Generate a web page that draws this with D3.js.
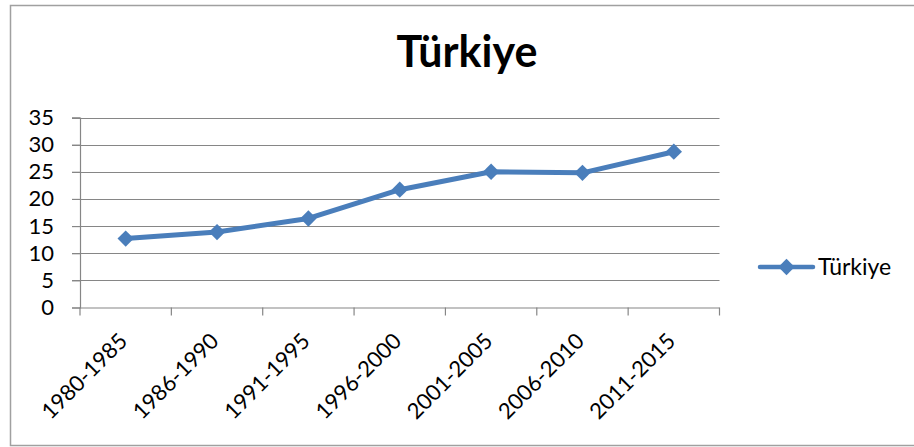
<!DOCTYPE html>
<html>
<head>
<meta charset="utf-8">
<script src="https://cdn.jsdelivr.net/npm/d3@7"></script>
<style>
  body { margin: 0; background: #fff; }
  text { font-family: Lato, "Open Sans", sans-serif; fill: #000; }
</style>
</head>
<body>
<svg id="chart" width="914" height="447"></svg>
<script>
"use strict";

const periods = ["1980-1985", "1986-1990", "1991-1995", "1996-2000", "2001-2005", "2006-2010", "2011-2015"];
const values = [12.7, 13.9, 16.4, 21.7, 25.0, 24.8, 28.7];
const yTicks = [0, 5, 10, 15, 20, 25, 30, 35];
const seriesName = "Türkiye";
const title = "Türkiye";

(() => {
	const svg = d3.select("#chart");
	const blue = "#4a7ebb";
	const grey = "#868686";

	// outer chart frame (right edge is cropped off in the original)
	svg.append("rect")
		.attr("x", 10.5).attr("y", 5.5)
		.attr("width", 960).attr("height", 440)
		.attr("fill", "none")
		.attr("stroke", "#a0a0a0")
		.attr("stroke-width", 1.5);

	const left = 80, right = 719.5, top = 117.5, bottom = 307.5;

	const x = d3.scaleBand().domain(periods).range([left, right]);
	const y = d3.scaleLinear().domain([0, 35]).range([bottom, top]);

	// gridlines
	svg.append("g")
		.selectAll("line")
		.data(yTicks.filter(d => d > 0))
		.enter().append("line")
		.attr("x1", left - 8).attr("x2", right)
		.attr("y1", d => Math.round(y(d)) + 0.5)
		.attr("y2", d => Math.round(y(d)) + 0.5)
		.attr("stroke", grey)
		.attr("stroke-width", 1.2);

	// y axis
	const yAxis = svg.append("g")
		.attr("transform", `translate(${left},0)`)
		.call(d3.axisLeft(y).tickValues(yTicks).tickSize(8).tickPadding(18));
	yAxis.select(".domain").attr("stroke", grey).attr("stroke-width", 1.2);
	yAxis.selectAll(".tick line").attr("stroke", grey).attr("stroke-width", 1.2);
	yAxis.selectAll(".tick text")
		.attr("font-size", 22)
		.attr("font-family", "Lato, sans-serif")
		.attr("fill", "#000");

	// x axis: ticks at category boundaries
	const bounds = periods.map(p => x(p)).concat([right]);
	svg.append("line")
		.attr("x1", left).attr("x2", right)
		.attr("y1", bottom + 0.5).attr("y2", bottom + 0.5)
		.attr("stroke", grey).attr("stroke-width", 1.2);
	svg.append("g")
		.selectAll("line")
		.data(bounds)
		.enter().append("line")
		.attr("x1", d => d).attr("x2", d => d)
		.attr("y1", bottom).attr("y2", bottom + 8)
		.attr("stroke", grey).attr("stroke-width", 1.2);

	svg.append("g")
		.selectAll("text")
		.data(periods)
		.enter().append("text")
		.attr("transform", d => `translate(${x(d) + x.bandwidth() / 2 + 3},${bottom + 35}) rotate(-45)`)
		.attr("text-anchor", "end")
		.attr("font-size", 22)
		.text(d => d);

	// line
	const cx = (d, i) => x(periods[i]) + x.bandwidth() / 2;
	const line = d3.line()
		.x((d, i) => cx(d, i))
		.y(d => y(d));

	svg.append("path")
		.datum(values)
		.attr("d", line)
		.attr("fill", "none")
		.attr("stroke", blue)
		.attr("stroke-width", 5)
		.attr("stroke-linejoin", "round")
		.attr("stroke-linecap", "round");

	const diamond = d3.symbol().type(d3.symbolDiamond2).size(170);
	svg.append("g")
		.selectAll("path")
		.data(values)
		.enter().append("path")
		.attr("d", diamond)
		.attr("transform", (d, i) => `translate(${cx(d, i)},${y(d)})`)
		.attr("fill", blue);

	// title
	svg.append("text")
		.attr("x", 467).attr("y", 67)
		.attr("text-anchor", "middle")
		.attr("font-size", 43)
		.attr("font-weight", "bold")
		.text(title);

	// legend
	const lg = svg.append("g").attr("transform", "translate(0,267)");
	lg.append("line")
		.attr("x1", 760).attr("x2", 813)
		.attr("stroke", blue).attr("stroke-width", 4.5)
		.attr("stroke-linecap", "round");
	lg.append("path")
		.attr("d", diamond)
		.attr("transform", "translate(786.5,0)")
		.attr("fill", blue);
	lg.append("text")
		.attr("x", 818).attr("y", 8)
		.attr("font-size", 23)
		.text(seriesName);
})();
</script>
</body>
</html>
